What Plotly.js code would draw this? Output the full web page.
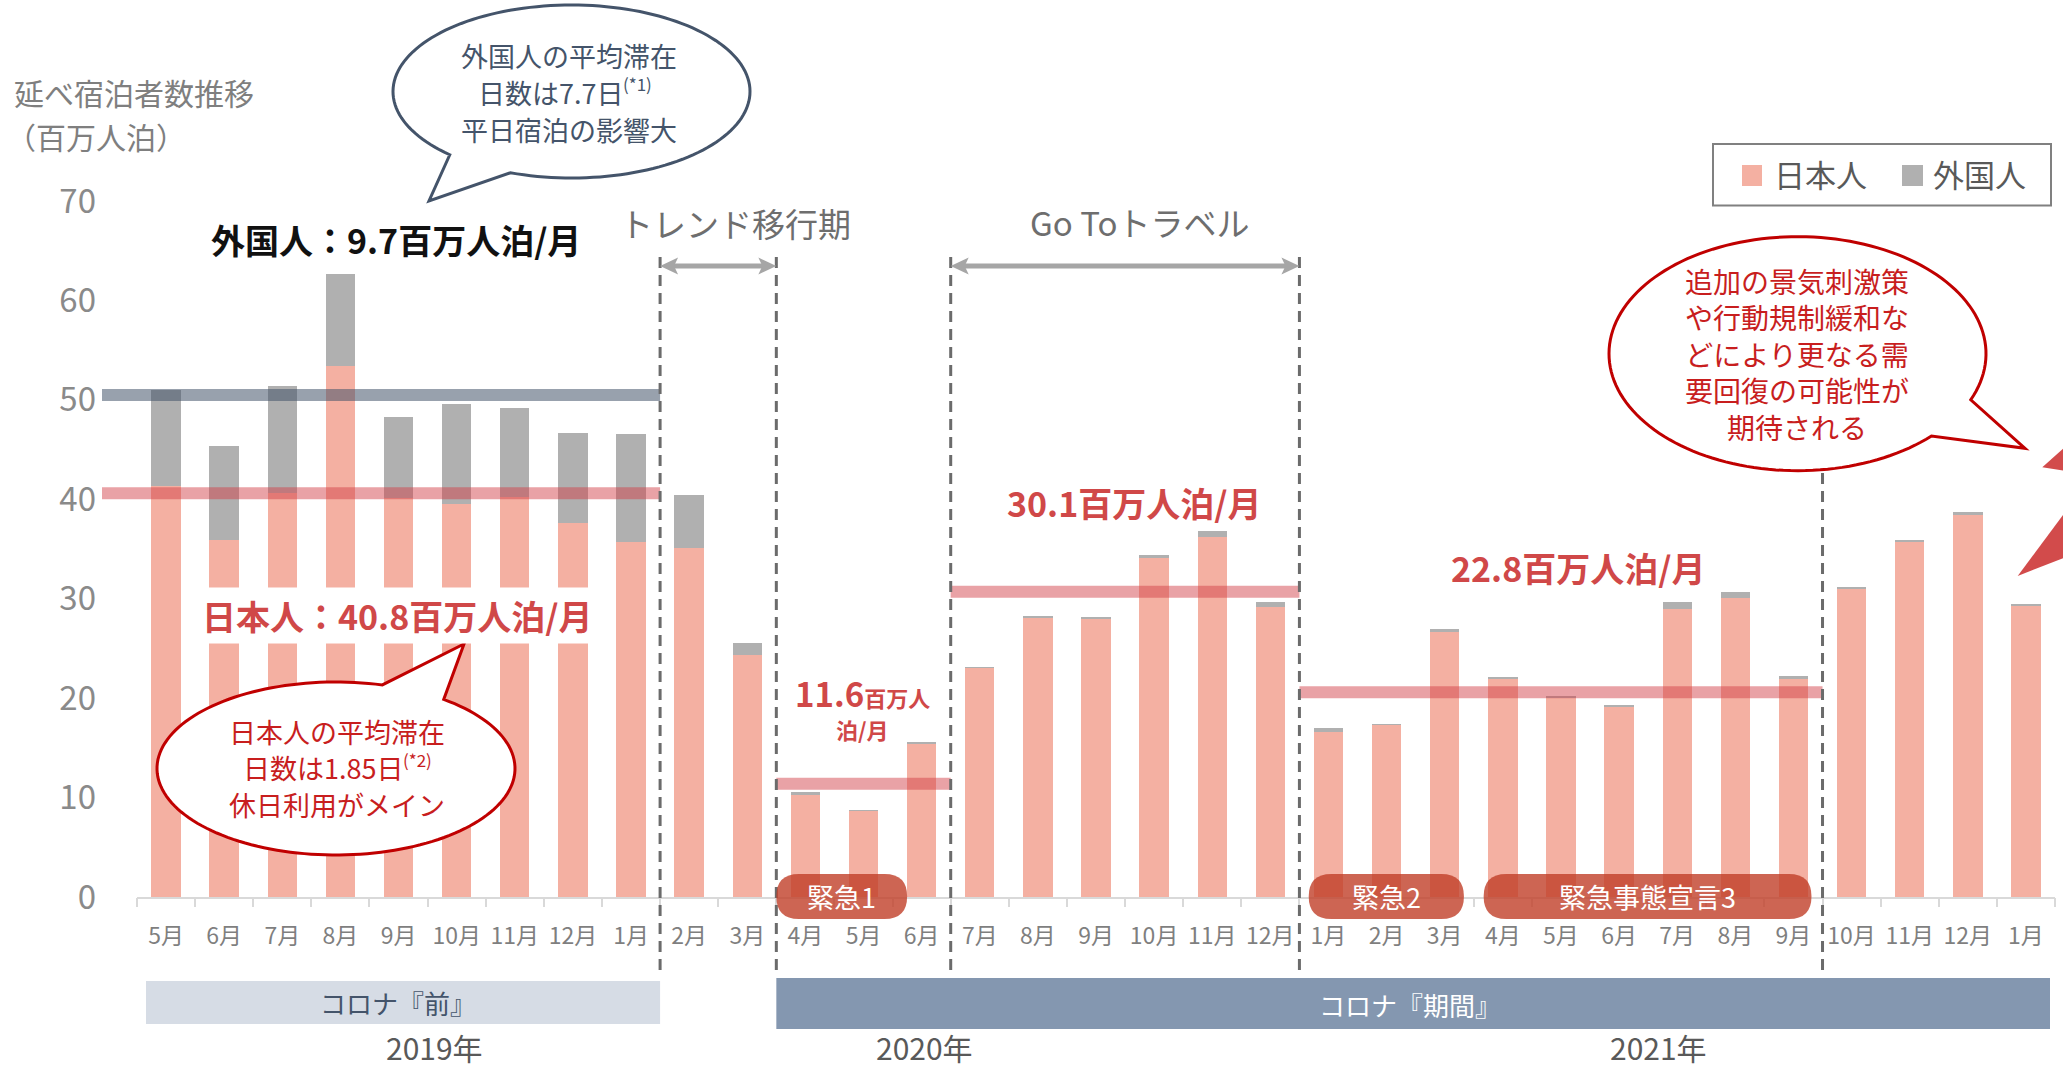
<!DOCTYPE html>
<html><head><meta charset="utf-8">
<script src="https://cdn.plot.ly/plotly-3.0.1.min.js"></script>
<style>html,body{margin:0;padding:0;background:#fff}</style>
</head><body><div id="chart" style="width:2063px;height:1069px"></div>
<script>
// ---------- data ----------
const months = ["2019-05","2019-06","2019-07","2019-08","2019-09","2019-10","2019-11","2019-12","2020-01","2020-02","2020-03","2020-04","2020-05","2020-06","2020-07","2020-08","2020-09","2020-10","2020-11","2020-12","2021-01","2021-02","2021-03","2021-04","2021-05","2021-06","2021-07","2021-08","2021-09","2021-10","2021-11","2021-12","2022-01"];
const monthLabels = ["5月","6月","7月","8月","9月","10月","11月","12月","1月","2月","3月","4月","5月","6月","7月","8月","9月","10月","11月","12月","1月","2月","3月","4月","5月","6月","7月","8月","9月","10月","11月","12月","1月"];
const japanese = [41.3,35.9,40.6,53.4,40.1,39.5,40.2,37.6,35.7,35.1,24.3,10.3,8.6,15.4,23.0,28.1,28.0,34.1,36.2,29.2,16.6,17.3,26.7,21.9,20.0,19.1,29.0,30.1,21.9,31.0,35.7,38.4,29.3];
const foreign  = [9.7,9.5,10.8,9.3,8.2,10.1,9.0,9.1,10.9,5.3,1.2,0.3,0.15,0.15,0.15,0.2,0.2,0.3,0.6,0.5,0.4,0.15,0.3,0.2,0.2,0.2,0.7,0.6,0.3,0.2,0.2,0.3,0.2];
const seriesNames = ["日本人","外国人"];
const seriesColors = ["#f4b0a2","#b0b0b0"];
const yTicks = [0,10,20,30,40,50,60,70];

// average lines per period (drawn positions) and their labels
const preTotalAvgLine = 50.5;
const avgStartIdx = [0, 11, 14, 20];
const avgEndIdx   = [8, 13, 19, 28];
const avgJapaneseLine = [40.6, 11.4, 30.7, 20.6];
const avgLabels = ["日本人：40.8百万人泊/月", "11.6百万人泊/月", "30.1百万人泊/月", "22.8百万人泊/月"];
const foreignAvgLabel = "外国人：9.7百万人泊/月";

// period boundaries (after these months)
const boundaryAfter = ["2020-01","2020-03","2020-06","2020-12","2021-09"];
const emergency = [["緊急1",10.5,12.75],["緊急2",19.66,22.33],["緊急事態宣言3",22.67,28.31]];
const years = [["2019年",434],["2020年",924],["2021年",1658]];

// ---------- geometry helpers ----------
const W=2063,H=1069,PL=137,PR=8,PT=201,PB=172;
const PW=W-PL-PR, PH=H-PT-PB, N=months.length;
const px2x = p => (p-PL)/PW;
const py2y = p => 1-(p-PT)/PH;
const d2px = d => PL+(d+0.5)*PW/N;
const FONT = "'Noto Sans CJK JP','Noto Sans',sans-serif";
const xs = months.map((m,i)=>i);

function pathFromPx(pts, close=true){
  return pts.map((p,i)=>(i?'L':'M')+px2x(p[0]).toFixed(5)+','+py2y(p[1]).toFixed(5)).join(' ')+(close?' Z':'');
}
function bubble(cx,cy,rx,ry,a1,a2,tip){
  const pts=[];
  for(let a=a1;a<=a2+0.001;a+=(a2-a1)/150){
    const t=a*Math.PI/180; pts.push([cx+rx*Math.cos(t), cy+ry*Math.sin(t)]);
  }
  pts.push(tip);
  return pathFromPx(pts);
}
function pill(x0,x1,y0,y1){
  const r=(y1-y0)/2;
  const P=(x,y)=>px2x(x).toFixed(5)+','+py2y(y).toFixed(5);
  return 'M'+P(x0+r,y0)+' L'+P(x1-r,y0)+' Q'+P(x1,y0)+' '+P(x1,y0+r)+' Q'+P(x1,y1)+' '+P(x1-r,y1)+
         ' L'+P(x0+r,y1)+' Q'+P(x0,y1)+' '+P(x0,y0+r)+' Q'+P(x0,y0)+' '+P(x0+r,y0)+' Z';
}
const rectPx = (x0,x1,y0,y1,fill,line) => ({type:'rect', xref:'paper', yref:'paper', x0:px2x(x0), x1:px2x(x1), y0:py2y(y1), y1:py2y(y0), fillcolor:fill, line:line||{width:0}});

// ---------- traces ----------
const traces = [
  {type:'bar', x:xs, y:japanese, name:seriesNames[0], marker:{color:seriesColors[0], line:{width:0}}, hoverinfo:'skip'},
  {type:'bar', x:xs, y:foreign, name:seriesNames[1], marker:{color:seriesColors[1], line:{width:0}}, hoverinfo:'skip'},
];

// ---------- shapes ----------
const shapes = [];
const redLine = 'rgba(210,60,70,0.48)';
const preX0 = (102-PL)/PW, preX1 = (avgEndIdx[0]+1)/N;
shapes.push({type:'line', xref:'x domain', yref:'y', x0:preX0, x1:preX1, y0:preTotalAvgLine, y1:preTotalAvgLine, line:{color:'rgba(68,84,106,0.55)', width:12}});
shapes.push({type:'line', xref:'x domain', yref:'y', x0:preX0, x1:preX1, y0:avgJapaneseLine[0], y1:avgJapaneseLine[0], line:{color:redLine, width:12}});
for(let i=1;i<avgStartIdx.length;i++){
  shapes.push({type:'line', xref:'x', yref:'y', x0:avgStartIdx[i]-0.5, x1:avgEndIdx[i]+0.5, y0:avgJapaneseLine[i], y1:avgJapaneseLine[i], line:{color:redLine, width:12}});
}
// dashed boundaries
const bounds = boundaryAfter.map(m=>months.indexOf(m)+0.5);
bounds.forEach((b,k)=>{
  shapes.push({type:'line', xref:'x', yref:'paper', x0:b, x1:b, y0:py2y(970), y1:py2y(k===4?473:252), line:{color:'#6b6b6b', width:3, dash:'11px,7px'}});
});
// double-headed period arrows
[[bounds[0],bounds[1]],[bounds[2],bounds[3]]].forEach(r=>{
  const a=d2px(r[0]), b=d2px(r[1]), y=266, L=18, h=8.5, n=4;
  shapes.push({type:'line', xref:'paper', yref:'paper', x0:px2x(a+10), x1:px2x(b-10), y0:py2y(y), y1:py2y(y), line:{color:'#a6a6a6', width:5}});
  shapes.push({type:'path', xref:'paper', yref:'paper', path:pathFromPx([[a,y],[a+L,y-h],[a+L-n,y],[a+L,y+h]]), fillcolor:'#a6a6a6', line:{width:0}});
  shapes.push({type:'path', xref:'paper', yref:'paper', path:pathFromPx([[b,y],[b-L,y-h],[b-L+n,y],[b-L,y+h]]), fillcolor:'#a6a6a6', line:{width:0}});
});
// emergency pills
emergency.forEach(e=>{
  shapes.push({type:'path', xref:'paper', yref:'paper', path:pill(d2px(e[1]), d2px(e[2]), 874, 919), fillcolor:'rgba(192,62,40,0.8)', line:{width:0}});
});
// bottom period boxes
shapes.push(rectPx(146, d2px(bounds[0]), 981, 1024, '#d6dce5'));
shapes.push(rectPx(d2px(bounds[1]), 2050, 978, 1029, '#8497b0'));
// speech bubbles
shapes.push({type:'path', xref:'paper', yref:'paper', path:bubble(571.5,91.5,178.5,86.5,133,470,[429,201]), fillcolor:'#ffffff', line:{color:'#44546a', width:3}});
shapes.push({type:'path', xref:'paper', yref:'paper', path:bubble(336,768.5,179,86.5,307,645,[464,644]), fillcolor:'#ffffff', line:{color:'#c00000', width:3}});
shapes.push({type:'path', xref:'paper', yref:'paper', path:bubble(1797.5,353.7,188.5,117,44.7,383.2,[2025,448.3]), fillcolor:'#ffffff', line:{color:'#c00000', width:3}});
// red arrow pieces at right edge
shapes.push({type:'path', xref:'paper', yref:'paper', path:pathFromPx([[2042.3,467.3],[2066,446],[2066,471]]), fillcolor:'#d24b4b', line:{width:0}});
shapes.push({type:'path', xref:'paper', yref:'paper', path:pathFromPx([[2017.7,576],[2066,511],[2066,557]]), fillcolor:'#d24b4b', line:{width:0}});
// legend box and swatches
shapes.push(rectPx(1713, 2051, 144, 205.5, '#ffffff', {color:'#808080', width:2}));
shapes.push(rectPx(1742, 1762, 165, 186, seriesColors[0]));
shapes.push(rectPx(1902, 1923, 165, 186, seriesColors[1]));

// ---------- annotations ----------
const ann = [];
function T(text,x,y,size,color,opts={}){
  ann.push(Object.assign({xref:'paper', yref:'paper', x:px2x(x), y:py2y(y), text:text, showarrow:false,
    xanchor:'center', yanchor:'middle', font:{family:FONT, size:size, color:color}}, opts));
}
T('延べ宿泊者数推移', 12, 92, 30, '#7f7f7f', {xanchor:'left'});
T('（百万人泊）', 4, 136, 30, '#7f7f7f', {xanchor:'left'});
// foreign bubble
T('外国人の平均滞在', 569, 55, 27, '#44546a');
T('日数は7.7日', 625, 92, 27, '#44546a', {xanchor:'right'});
T('(*1)', 621, 84, 17, '#44546a', {xanchor:'left'});
T('平日宿泊の影響大', 569, 129, 27, '#44546a');
// japanese bubble
T('日本人の平均滞在', 337, 731, 27, '#c81e1e');
T('日数は1.85日', 405, 767, 27, '#c81e1e', {xanchor:'right'});
T('(*2)', 401, 759, 17, '#c81e1e', {xanchor:'left'});
T('休日利用がメイン', 337, 804, 27, '#c81e1e');
// right bubble
T('追加の景気刺激策<br>や行動規制緩和な<br>どにより更なる需<br>要回復の可能性が<br>期待される', 1797, 354, 28, '#c81e1e');
// average labels
T('<b>'+foreignAvgLabel+'</b>', 396, 239, 34, '#111111');
T('<b>'+avgLabels[0]+'</b>', 397, 615, 34, '#d04848', {bgcolor:'#ffffff', borderpad:3});
T('<b><span style="font-size:33px">11.6</span>百万人</b>', 862, 693, 22, '#d04848');
T('<b>泊/月</b>', 862, 729, 22, '#d04848');
T('<b>'+avgLabels[2]+'</b>', 1134, 502, 34, '#d04848');
T('<b>'+avgLabels[3]+'</b>', 1578, 567, 34, '#d04848');
// period labels
T('トレンド移行期', 735, 223, 33, '#6e6e6e');
T('Go Toトラベル', 1139, 222, 33, '#6e6e6e');
emergency.forEach(e=>T(e[0], (d2px(e[1])+d2px(e[2]))/2, 896, 27, '#ffffff'));
T('コロナ『前』', 398, 1002, 26, '#44546a');
T('コロナ『期間』', 1410, 1004, 26, '#ffffff');
years.forEach(y=>T(y[0], y[1], 1047, 30, '#595959'));
// legend texts
T(seriesNames[0], 1772, 173, 31, '#595959', {xanchor:'left'});
T(seriesNames[1], 1931, 173, 31, '#595959', {xanchor:'left'});

const layout = {
  width:W, height:H, margin:{l:PL, r:PR, t:PT, b:PB}, paper_bgcolor:'#ffffff', plot_bgcolor:'#ffffff',
  font:{family:FONT, color:'#595959'},
  barmode:'stack', bargap:0.494, showlegend:false,
  xaxis:{range:[-0.5,N-0.5], tickmode:'array', tickvals:xs, ticktext:monthLabels, ticks:'', showgrid:false, zeroline:false,
         showline:true, linecolor:'#d9d9d9', linewidth:2, tickfont:{family:FONT, size:23, color:'#7f7f7f'}, ticklabelstandoff:17, fixedrange:true},
  xaxis2:{overlaying:'x', anchor:'y', side:'bottom', range:[-0.5,N-0.5], tickmode:'array', tickvals:xs.map(i=>i-0.5).concat([N-0.5]),
          ticks:'outside', ticklen:9, tickwidth:2, tickcolor:'#d9d9d9', showticklabels:false, showgrid:false, zeroline:false, showline:false},
  yaxis:{range:[0,70], tickmode:'array', tickvals:yTicks, showgrid:false, zeroline:false, showline:false, ticks:'',
         tickfont:{family:FONT, size:33, color:'#8a8a8a'}, ticklabelstandoff:40},
  shapes:shapes, annotations:ann
};
traces.push({type:'scatter', x:[0], y:[0], xaxis:'x2', yaxis:'y', mode:'markers', marker:{opacity:0}, showlegend:false, hoverinfo:'skip'});

Plotly.newPlot('chart', traces, layout, {staticPlot:true, displayModeBar:false});
</script>
</body></html>
